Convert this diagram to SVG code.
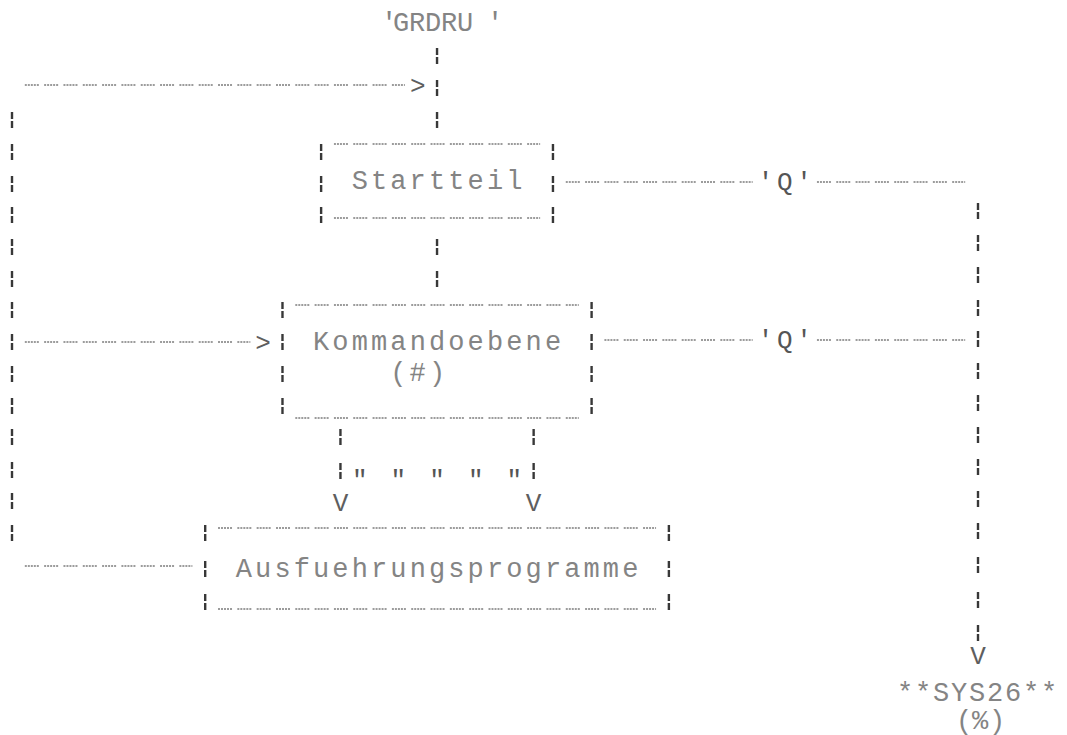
<svg xmlns="http://www.w3.org/2000/svg" xmlns:xlink="http://www.w3.org/1999/xlink" width="1067" height="735" viewBox="0 0 1067 735">
<style>
.dash{stroke:#9c9c9c;stroke-width:1.8;stroke-dasharray:2 1 2 1 2 1 2 1 2 5.32;fill:none}
.t{font-family:"Liberation Mono","DejaVu Sans Mono",monospace;font-size:27px;fill:#848484;letter-spacing:3.12px}
.tx{font-family:"Liberation Mono","DejaVu Sans Mono",monospace;font-size:27px;fill:#848484;text-anchor:middle}
.ar{font-family:"Liberation Mono","DejaVu Sans Mono",monospace;font-size:26px;fill:#5e5e5e;text-anchor:middle}
.q{font-family:"Liberation Mono","DejaVu Sans Mono",monospace;font-size:26px;fill:#555;text-anchor:middle}
</style>
<defs>
<g id="bar" stroke="#383838" stroke-width="2.4"><line x1="0" y1="-8" x2="0" y2="-1"/><line x1="0" y1="1" x2="0" y2="8"/></g>
</defs>
<rect width="1067" height="735" fill="#ffffff"/>

<g id="grdru">
<text class="tx" x="389 401 417 433 449 465 495" y="31">'GRDRU'</text>
</g>

<g id="startteil">
<line class="dash" x1="333.94" y1="144" x2="540.14" y2="144"/>
<line class="dash" x1="333.94" y1="218" x2="540.14" y2="218"/>
<use xlink:href="#bar" x="321.12" y="152"/><use xlink:href="#bar" x="321.12" y="184"/><use xlink:href="#bar" x="321.12" y="215"/>
<use xlink:href="#bar" x="552.96" y="152"/><use xlink:href="#bar" x="552.96" y="184"/><use xlink:href="#bar" x="552.96" y="215"/>
<text class="t" x="351.66" y="189">Startteil</text>
</g>

<g id="kommandoebene">
<line class="dash" x1="295.3" y1="305" x2="578.78" y2="305"/>
<line class="dash" x1="295.3" y1="418" x2="578.78" y2="418"/>
<use xlink:href="#bar" x="282.48" y="310"/><use xlink:href="#bar" x="282.48" y="342"/><use xlink:href="#bar" x="282.48" y="374"/><use xlink:href="#bar" x="282.48" y="406"/>
<use xlink:href="#bar" x="591.6" y="310"/><use xlink:href="#bar" x="591.6" y="342"/><use xlink:href="#bar" x="591.6" y="374"/><use xlink:href="#bar" x="591.6" y="406"/>
<text class="t" x="313.02" y="350">Kommandoebene</text>
<text class="t" x="390.3" y="381">(#)</text>
</g>

<g id="ausfuehrungsprogramme">
<line class="dash" x1="218.02" y1="528" x2="656.06" y2="528"/>
<line class="dash" x1="218.02" y1="609" x2="656.06" y2="609"/>
<use xlink:href="#bar" x="205.2" y="533"/><use xlink:href="#bar" x="205.2" y="569"/><use xlink:href="#bar" x="205.2" y="602"/>
<use xlink:href="#bar" x="668.88" y="533"/><use xlink:href="#bar" x="668.88" y="569"/><use xlink:href="#bar" x="668.88" y="602"/>
<text class="t" x="235.74" y="577">Ausfuehrungsprogramme</text>
</g>

<g id="sys26">
<text class="tx" x="905 923 941 959 977 995 1013 1031 1049" y="701">**SYS26**</text>
<text class="tx" x="964 980 997" y="729">(%)</text>
</g>

<g id="connectors">
<use xlink:href="#bar" x="437.04" y="56"/><use xlink:href="#bar" x="437.04" y="88"/><use xlink:href="#bar" x="437.04" y="120"/>
<use xlink:href="#bar" x="437.04" y="247"/><use xlink:href="#bar" x="437.04" y="279"/>
<line class="dash" x1="24.82" y1="85" x2="404.9" y2="85"/>
<text class="ar" x="417.72" y="94">&gt;</text>
<use xlink:href="#bar" x="12" y="120"/><use xlink:href="#bar" x="12" y="152"/><use xlink:href="#bar" x="12" y="184"/><use xlink:href="#bar" x="12" y="215"/>
<use xlink:href="#bar" x="12" y="247"/><use xlink:href="#bar" x="12" y="279"/><use xlink:href="#bar" x="12" y="310"/><use xlink:href="#bar" x="12" y="342"/>
<use xlink:href="#bar" x="12" y="374"/><use xlink:href="#bar" x="12" y="406"/><use xlink:href="#bar" x="12" y="437"/><use xlink:href="#bar" x="12" y="470"/>
<use xlink:href="#bar" x="12" y="501"/><use xlink:href="#bar" x="12" y="533"/>
<line class="dash" x1="24.82" y1="342" x2="250.34" y2="342"/>
<text class="ar" x="263.16" y="351">&gt;</text>
<line class="dash" x1="24.82" y1="566" x2="192.38" y2="566"/>
<line class="dash" x1="565.78" y1="182" x2="752.66" y2="182"/>
<text class="q" x="765.48 784.8 804.12" y="190">'Q'</text>
<line class="dash" x1="816.94" y1="182" x2="965.18" y2="182"/>
<line class="dash" x1="604.42" y1="340" x2="752.66" y2="340"/>
<text class="q" x="765.48 784.8 804.12" y="348">'Q'</text>
<line class="dash" x1="816.94" y1="340" x2="965.18" y2="340"/>
<use xlink:href="#bar" x="978" y="211"/><use xlink:href="#bar" x="978" y="243"/><use xlink:href="#bar" x="978" y="275"/><use xlink:href="#bar" x="978" y="308"/>
<use xlink:href="#bar" x="978" y="339"/><use xlink:href="#bar" x="978" y="371"/><use xlink:href="#bar" x="978" y="403"/><use xlink:href="#bar" x="978" y="435"/>
<use xlink:href="#bar" x="978" y="467"/><use xlink:href="#bar" x="978" y="499"/><use xlink:href="#bar" x="978" y="531"/><use xlink:href="#bar" x="978" y="565"/>
<use xlink:href="#bar" x="978" y="600"/><use xlink:href="#bar" x="978" y="633"/>
<text class="ar" x="978" y="664">V</text>
<use xlink:href="#bar" x="340.44" y="437"/><use xlink:href="#bar" x="340.44" y="471"/>
<use xlink:href="#bar" x="533.64" y="437"/><use xlink:href="#bar" x="533.64" y="471"/>
<text class="q" x="359.76 398.4 437.04 475.68 514.32" y="488">"""""</text>
<text class="ar" x="340.44" y="511">V</text>
<text class="ar" x="533.64" y="511">V</text>
</g>
</svg>
